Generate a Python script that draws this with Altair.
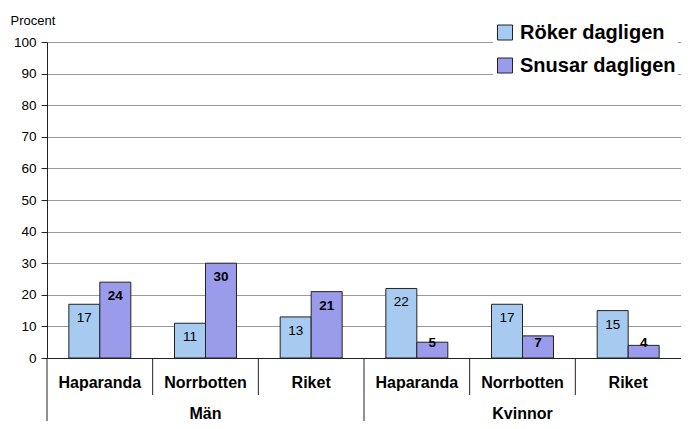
import altair as alt
import pandas as pd

groups = ["Män", "Män", "Män", "Kvinnor", "Kvinnor", "Kvinnor"]
regions = ["Haparanda", "Norrbotten", "Riket", "Haparanda", "Norrbotten", "Riket"]
series_names = ["Röker dagligen", "Snusar dagligen"]
roker = [17, 11, 13, 22, 17, 15]
snusar = [24, 30, 21, 5, 7, 4]
colors = ["#A6CAF0", "#9B9BEC"]
y_ticks = [0, 10, 20, 30, 40, 50, 60, 70, 80, 90, 100]

keys = [g + "|" + r for g, r in zip(groups, regions)]

rows = []
for k, g, r, a, b in zip(keys, groups, regions, roker, snusar):
    rows.append({"key": k, "group": g, "region": r, "series": series_names[0], "value": a})
    rows.append({"key": k, "group": g, "region": r, "series": series_names[1], "value": b})
df = pd.DataFrame(rows)

FONT = "Liberation Sans"

xenc = alt.X(
    "key:N", sort=keys,
    scale=alt.Scale(paddingInner=0, paddingOuter=0),
    axis=alt.Axis(
        title=None, labelExpr="split(datum.label, '|')[1]", labelAngle=0,
        labelFont=FONT, labelFontSize=16, labelFontWeight="bold", labelColor="#000",
        labelBaseline="middle", labelPadding=24, ticks=False, tickSize=0,
        domainColor="#222", domainWidth=1, grid=False,
    ),
)
xoff = alt.XOffset("series:N", sort=series_names,
                   scale=alt.Scale(paddingOuter=0.705, paddingInner=0))

yscale = alt.Scale(domain=[0, 100], nice=False)
yaxis = alt.Axis(
    values=y_ticks, labelOverlap=False, grid=True,
    title="Procent", titleAngle=0, titleAlign="left",
    titleBaseline="middle", titleX=-37, titleY=-22, titleFont=FONT,
    titleFontSize=13, titleFontWeight="normal", titleColor="#000",
    labelFont=FONT, labelFontSize=13.5, labelColor="#000", labelPadding=5,
    tickSize=6, tickColor="#222", domainColor="#222",
    gridColor="#999", gridWidth=1,
)
yenc = alt.Y("value:Q", scale=yscale, axis=yaxis)

color = alt.Color(
    "series:N", sort=series_names,
    scale=alt.Scale(domain=series_names, range=colors),
    legend=alt.Legend(
        title=None, orient="none", legendX=446, legendY=-21.5,
        fillColor="white", padding=2, symbolType="square", symbolSize=225,
        symbolStrokeColor="#222", symbolStrokeWidth=1, labelFont=FONT,
        labelFontSize=20, labelFontWeight="bold", labelColor="#000",
        labelOffset=5, rowPadding=13,
    ),
)

bars = alt.Chart(df).mark_bar(stroke="#222", strokeWidth=1).encode(
    x=xenc, xOffset=xoff, y=yenc, color=color
)

txt_base = alt.Chart(df).transform_calculate(
    ly="max(datum.value - 4.4, 4.6)"
)
ytxt = alt.Y("ly:Q", scale=yscale, axis=yaxis)
txt_r = txt_base.transform_filter(alt.datum.series == series_names[0]).mark_text(
    font=FONT, fontSize=13.5, color="#000", baseline="middle"
).encode(x=alt.X("key:N", sort=keys), xOffset=xoff, y=ytxt, text="value:Q")
txt_s = txt_base.transform_filter(alt.datum.series == series_names[1]).mark_text(
    font=FONT, fontSize=13.5, fontWeight="bold", color="#000", baseline="middle"
).encode(x=alt.X("key:N", sort=keys), xOffset=xoff, y=ytxt, text="value:Q")

sep_df = pd.DataFrame({"key": keys, "long": [k.split("|")[1] == regions[0] for k in keys]})
sep_short = alt.Chart(sep_df).transform_filter("!datum.long").mark_rule(
    color="#222", strokeWidth=1
).encode(x=alt.X("key:N", sort=keys, bandPosition=0), y=alt.value(316), y2=alt.value(353))
sep_long = alt.Chart(sep_df).transform_filter("datum.long").mark_rule(
    color="#222", strokeWidth=1
).encode(x=alt.X("key:N", sort=keys, bandPosition=0), y=alt.value(316), y2=alt.value(380))

grp_df = pd.DataFrame({
    "key": [keys[1], keys[4]],
    "label": [groups[1], groups[4]],
})
grp_txt = alt.Chart(grp_df).mark_text(
    font=FONT, fontSize=16, fontWeight="bold", color="#000", baseline="middle"
).encode(x=alt.X("key:N", sort=keys), y=alt.value(372), text="label:N")

chart = alt.layer(bars, txt_r, txt_s, sep_short, sep_long, grp_txt).properties(
    width=634, height=316,
    autosize=alt.AutoSizeParams(type="none"),
    padding={"left": 39, "top": 34, "right": 0, "bottom": 63},
).configure_view(stroke=None).configure(background="white")

chart.save("out.html", embed_options={"renderer": "svg", "actions": False})
